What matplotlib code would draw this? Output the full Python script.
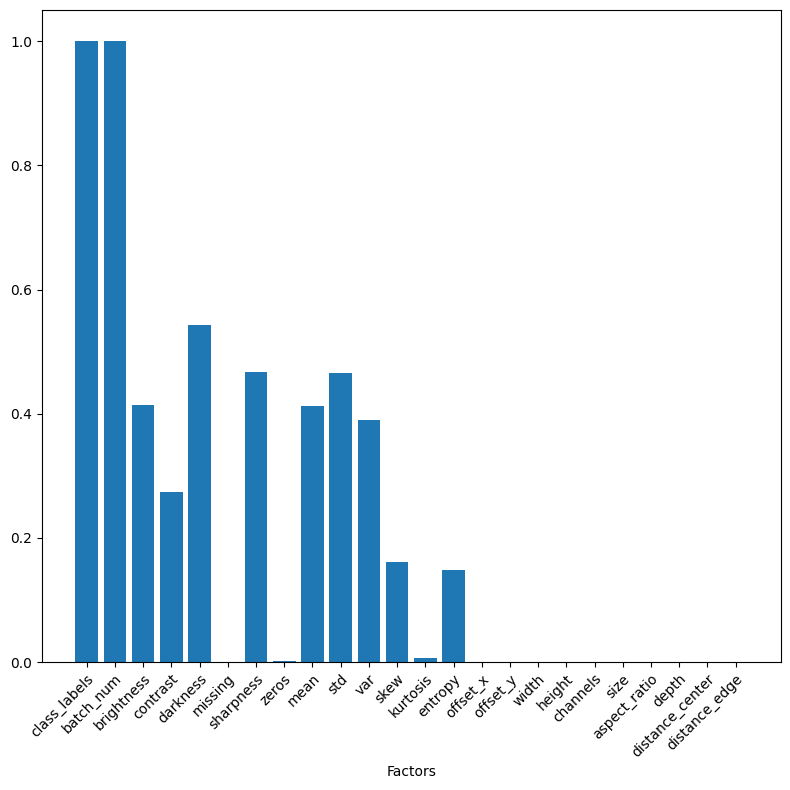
import matplotlib
matplotlib.use("Agg")
import matplotlib.pyplot as plt

factors = ["class_labels", "batch_num", "brightness", "contrast", "darkness",
           "missing", "sharpness", "zeros", "mean", "std", "var", "skew",
           "kurtosis", "entropy", "offset_x", "offset_y", "width", "height",
           "channels", "size", "aspect_ratio", "depth", "distance_center",
           "distance_edge"]
values = [1.0, 1.0, 0.414, 0.274, 0.543, 0.0, 0.467, 0.002, 0.412, 0.465,
          0.390, 0.161, 0.006, 0.148, 0.0, 0.0, 0.0, 0.0, 0.0, 0.0, 0.0,
          0.0, 0.0, 0.0]

fig, ax = plt.subplots(figsize=(7.9, 7.9), dpi=100)
ax.bar(factors, values)
ax.set_xlabel("Factors")
plt.setp(ax.get_xticklabels(), rotation=45, ha="right", rotation_mode="anchor")
fig.subplots_adjust(left=0.053, right=0.988, top=0.987, bottom=0.162)
fig.savefig("out.png")
